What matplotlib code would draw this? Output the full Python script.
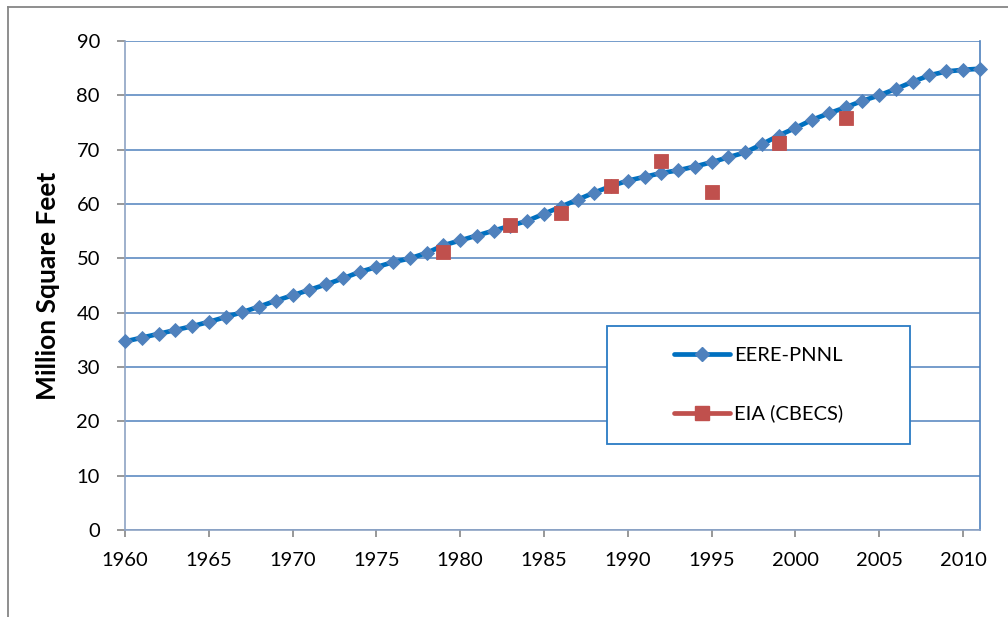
import matplotlib
matplotlib.use("Agg")
import matplotlib.pyplot as plt
from matplotlib.lines import Line2D
from matplotlib.patches import Rectangle

# EERE-PNNL series, one value per year 1960-2011
years = list(range(1960, 2012))
eere_pnnl = [34.7, 35.4, 36.1, 36.8, 37.5, 38.3, 39.2, 40.1, 41.1, 42.2,
             43.2, 44.2, 45.2, 46.3, 47.5, 48.4, 49.3, 50.0, 51.0, 52.4,
             53.3, 54.2, 55.1, 56.0, 56.9, 58.2, 59.5, 60.8, 62.1, 63.3,
             64.3, 65.0, 65.7, 66.2, 66.9, 67.7, 68.6, 69.5, 71.0, 72.6,
             74.0, 75.5, 76.7, 77.8, 79.0, 80.0, 81.2, 82.5, 83.7, 84.4,
             84.7, 84.9]

# EIA (CBECS) survey points
cbecs_years = [1979, 1983, 1986, 1989, 1992, 1995, 1999, 2003]
cbecs_vals = [51.2, 56.2, 58.3, 63.3, 67.9, 62.2, 71.2, 75.8]

x_ticks = list(range(1960, 2011, 5))
y_ticks = list(range(0, 91, 10))

plt.rcParams['font.family'] = ['Lato', 'DejaVu Sans']

fig = plt.figure(figsize=(10.08, 6.17), dpi=100)
ax = fig.add_axes([0.124, 0.141, 0.848, 0.7925])

grid_c = '#4F81BD'
ax.plot(years, eere_pnnl, color='#0070C0', lw=3.4, marker='D', ms=7, mew=0.6,
        mfc='#4F81BD', mec='#4F81BD', label='EERE-PNNL', zorder=3, clip_on=False)
ax.plot(cbecs_years, cbecs_vals, ls='none', marker='s', ms=10.5, mew=0.6,
        mfc='#C0504D', mec='#C0504D', label='EIA (CBECS)', zorder=4, clip_on=False)

ax.set_xlim(1960, 2011)
ax.set_ylim(0, 90)
ax.set_xticks(x_ticks)
ax.set_yticks(y_ticks)
ax.yaxis.grid(True, color=grid_c, lw=1.1)
ax.set_axisbelow(True)
ax.tick_params(axis='x', length=5, width=1.2, color='#868686', pad=11, labelsize=14.5)
ax.tick_params(axis='y', length=6, width=1.2, color='#868686', pad=12, labelsize=14.5)
ax.spines['top'].set_visible(False)
ax.spines['left'].set_color('#8EA3C4')
ax.spines['bottom'].set_color('#8EA3C4')
ax.spines['right'].set_color(grid_c)
for s in ax.spines.values():
    s.set_linewidth(1.2)

fig.text(48 / 1008, 0.537, 'Million Square Feet', rotation=90, ha='center',
         va='center', fontsize=19, fontweight='bold')

# legend box
lx0, ly0, lw, lh = 607 / 1008, (617 - 444) / 617, 303 / 1008, 118 / 617
fig.patches.append(Rectangle((lx0, ly0), lw, lh, transform=fig.transFigure,
                             fill=True, fc='white', ec='#2A7BC4', lw=1.3, zorder=5))
h1 = Line2D([], [], color='#0070C0', lw=3.4, marker='D', ms=7,
            mfc='#4F81BD', mec='#4F81BD', solid_capstyle='round')
h2 = Line2D([], [], color='#C0504D', lw=3.4, marker='s', ms=10.5,
            mfc='#C0504D', mec='#C0504D', solid_capstyle='round')
leg = fig.legend([h1, h2], ['EERE-PNNL', 'EIA (CBECS)'], loc='center',
                 bbox_to_anchor=(lx0 + lw / 2, ly0 + lh / 2), frameon=False,
                 fontsize=14.5, handlelength=2.8, handletextpad=0.2,
                 labelspacing=2.0, numpoints=1)
leg.set_zorder(6)

# outer chart border (left and top)
fig.add_artist(Line2D([8 / 1008, 8 / 1008], [0, 1 - 7 / 617], color='#868686', lw=1.3))
fig.add_artist(Line2D([8 / 1008, 1], [1 - 7 / 617, 1 - 7 / 617], color='#868686', lw=1.3))

fig.savefig('out.png', dpi=100)
